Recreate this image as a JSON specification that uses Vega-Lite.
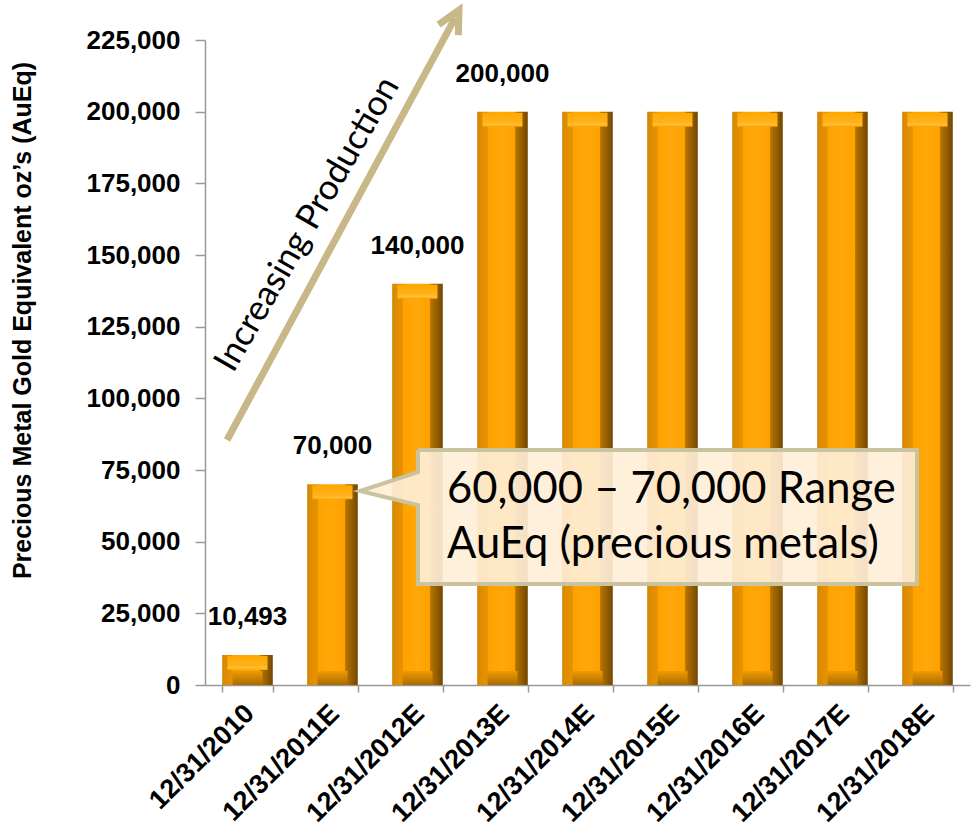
{
  "$schema": "https://vega.github.io/schema/vega-lite/v6.json",
  "width": 765,
  "height": 645,
  "autosize": {"type": "none"},
  "padding": {"left": 205, "top": 40, "right": 10, "bottom": 144},
  "background": "white",
  "config": {"view": {"stroke": null}, "font": "Liberation Sans"},
  "datasets": {
    "bars": [
      {"date": "12/31/2010", "value": 10493},
      {"date": "12/31/2011E", "value": 70000},
      {"date": "12/31/2012E", "value": 140000},
      {"date": "12/31/2013E", "value": 200000},
      {"date": "12/31/2014E", "value": 200000},
      {"date": "12/31/2015E", "value": 200000},
      {"date": "12/31/2016E", "value": 200000},
      {"date": "12/31/2017E", "value": 200000},
      {"date": "12/31/2018E", "value": 200000}
    ],
    "box": [{"x": 2.506, "x2": 8.376, "value": 81970, "value2": 35230}],
    "pointer": [
      {"x": 1.824, "value": 67670, "value2": 67670},
      {"x": 2.506, "value": 74290, "value2": 62780}
    ],
    "outline": [
      {"i": 0, "x": 2.506, "value": 81970},
      {"i": 1, "x": 8.376, "value": 81970},
      {"i": 2, "x": 8.376, "value": 35230},
      {"i": 3, "x": 2.506, "value": 35230},
      {"i": 4, "x": 2.506, "value": 62780},
      {"i": 5, "x": 1.824, "value": 67670},
      {"i": 6, "x": 2.506, "value": 74290},
      {"i": 7, "x": 2.506, "value": 81970}
    ],
    "ctext": [
      {"x": 2.847, "value": 63480, "text": "60,000 – 70,000 Range"},
      {"x": 2.847, "value": 44300, "text": "AuEq (precious metals)"}
    ],
    "arrow": [{"x": 0.259, "value": 85460, "x2": 2.941, "value2": 232650}],
    "head": [{"x": 2.988, "value": 235440}],
    "ptext": [{"x": 1.2, "value": 160800, "text": "Increasing Production"}]
  },
  "resolve": {"scale": {"x": "independent", "y": "independent"}},
  "layer": [
    {
      "data": {"name": "bars"},
      "encoding": {
        "x": {
          "field": "date",
          "type": "nominal",
          "sort": null,
          "scale": {"paddingInner": 0.405, "paddingOuter": 0.2025},
          "axis": {
            "title": null,
            "labelAngle": -45,
            "labelAlign": "right",
            "labelBaseline": "middle",
            "labelFont": "Liberation Sans",
            "labelFontSize": 27,
            "labelFontWeight": "bold",
            "labelColor": "black",
            "labelOverlap": false,
            "labelPadding": 17,
            "labelOffset": 2,
            "tickBand": "extent",
            "tickSize": 7,
            "tickColor": "#999999",
            "tickWidth": 1.5,
            "domainColor": "#999999",
            "domainWidth": 1.5
          }
        },
        "y": {
          "field": "value",
          "type": "quantitative",
          "scale": {"domain": [0, 225000], "nice": false, "zero": true},
          "axis": {
            "title": "Precious Metal Gold Equivalent oz’s (AuEq)",
            "values": [0, 25000, 50000, 75000, 100000, 125000, 150000, 175000, 200000, 225000],
            "format": ",.0f",
            "grid": false,
            "labelFont": "Liberation Sans",
            "labelFontSize": 26,
            "labelFontWeight": "bold",
            "labelColor": "black",
            "labelPadding": 15,
            "tickSize": 10,
            "tickColor": "#999999",
            "tickWidth": 1.5,
            "domainColor": "#999999",
            "domainWidth": 1.5,
            "titleFont": "Liberation Sans",
            "titleFontSize": 25,
            "titleFontWeight": "bold",
            "titleColor": "black",
            "titleAngle": -90,
            "titleX": -183,
            "titleY": 280,
            "titleAlign": "center",
            "titleBaseline": "middle"
          }
        }
      },
      "layer": [
        {
          "mark": {
            "type": "bar",
            "color": {
              "gradient": "linear",
              "x1": 0, "y1": 0, "x2": 1, "y2": 0,
              "stops": [
                {"offset": 0, "color": "#C87D00"},
                {"offset": 0.03, "color": "#DB8A00"},
                {"offset": 0.2, "color": "#E69200"},
                {"offset": 0.22, "color": "#FFA200"},
                {"offset": 0.5, "color": "#FFA80A"},
                {"offset": 0.74, "color": "#FFA000"},
                {"offset": 0.76, "color": "#B57300"},
                {"offset": 1, "color": "#744800"}
              ]
            }
          }
        },
        {
          "mark": {
            "type": "tick",
            "orient": "horizontal",
            "size": 40,
            "thickness": 14,
            "yOffset": 8,
            "opacity": 1,
            "color": {
              "gradient": "linear",
              "x1": 0, "y1": 0, "x2": 0, "y2": 1,
              "stops": [
                {"offset": 0, "color": "#FFA800"},
                {"offset": 0.7, "color": "#FFB21C"},
                {"offset": 0.85, "color": "#FFC038"},
                {"offset": 1, "color": "#FFA500"}
              ]
            }
          }
        },
        {
          "transform": [
            {"filter": {"field": "date", "oneOf": ["12/31/2010", "12/31/2011E", "12/31/2012E", "12/31/2013E"]}}
          ],
          "mark": {
            "type": "text",
            "font": "Liberation Sans",
            "fontSize": 26,
            "fontWeight": "bold",
            "color": "black",
            "baseline": "alphabetic",
            "align": "center",
            "dy": -30
          },
          "encoding": {"text": {"field": "value", "type": "quantitative", "format": ","}}
        }
      ]
    },
    {
      "data": {"name": "bars"},
      "mark": {
        "type": "tick",
        "orient": "horizontal",
        "size": 30,
        "thickness": 14,
        "yOffset": -7,
        "opacity": 1,
        "color": {
          "gradient": "linear",
          "x1": 0, "y1": 0, "x2": 0, "y2": 1,
          "stops": [
            {"offset": 0, "color": "#F09A00"},
            {"offset": 1, "color": "#A86C00"}
          ]
        }
      },
      "encoding": {
        "x": {"field": "date", "type": "nominal", "sort": null, "scale": {"paddingInner": 0.405, "paddingOuter": 0.2025}, "axis": null},
        "y": {"datum": 0, "type": "quantitative", "scale": {"domain": [0, 225000], "nice": false}, "axis": null}
      }
    },
    {
      "data": {"name": "box"},
      "mark": {"type": "rect", "fill": "#FFEED9", "fillOpacity": 0.91},
      "encoding": {
        "x": {"field": "x", "type": "quantitative", "scale": {"domain": [0, 9], "nice": false, "zero": false}, "axis": null},
        "x2": {"field": "x2"},
        "y": {"field": "value", "type": "quantitative", "scale": {"domain": [0, 225000], "nice": false}, "axis": null},
        "y2": {"field": "value2"}
      }
    },
    {
      "data": {"name": "pointer"},
      "mark": {"type": "area", "fill": "#FFEED9", "fillOpacity": 0.91, "orient": "vertical"},
      "encoding": {
        "x": {"field": "x", "type": "quantitative", "scale": {"domain": [0, 9], "nice": false, "zero": false}, "axis": null},
        "y": {"field": "value", "type": "quantitative", "scale": {"domain": [0, 225000], "nice": false}, "axis": null},
        "y2": {"field": "value2"}
      }
    },
    {
      "data": {"name": "outline"},
      "mark": {"type": "line", "stroke": "#C9C3A0", "strokeWidth": 4, "strokeJoin": "miter"},
      "encoding": {
        "x": {"field": "x", "type": "quantitative", "scale": {"domain": [0, 9], "nice": false, "zero": false}, "axis": null},
        "y": {"field": "value", "type": "quantitative", "scale": {"domain": [0, 225000], "nice": false}, "axis": null},
        "order": {"field": "i", "type": "quantitative"}
      }
    },
    {
      "data": {"name": "ctext"},
      "mark": {"type": "text", "font": "Lato", "fontSize": 43.5, "align": "left", "baseline": "alphabetic", "color": "black"},
      "encoding": {
        "x": {"field": "x", "type": "quantitative", "scale": {"domain": [0, 9], "nice": false, "zero": false}, "axis": null},
        "y": {"field": "value", "type": "quantitative", "scale": {"domain": [0, 225000], "nice": false}, "axis": null},
        "text": {"field": "text"}
      }
    },
    {
      "data": {"name": "arrow"},
      "mark": {"type": "rule", "stroke": "#C8B787", "strokeWidth": 7},
      "encoding": {
        "x": {"field": "x", "type": "quantitative", "scale": {"domain": [0, 9], "nice": false, "zero": false}, "axis": null},
        "y": {"field": "value", "type": "quantitative", "scale": {"domain": [0, 225000], "nice": false}, "axis": null},
        "x2": {"field": "x2"},
        "y2": {"field": "value2"}
      }
    },
    {
      "data": {"name": "head"},
      "mark": {"type": "point", "shape": "M-0.5,1L0,0L0.5,1", "filled": false, "stroke": "#C8B787", "strokeWidth": 7, "size": 2000, "angle": 28, "opacity": 1, "strokeJoin": "miter"},
      "encoding": {
        "x": {"field": "x", "type": "quantitative", "scale": {"domain": [0, 9], "nice": false, "zero": false}, "axis": null},
        "y": {"field": "value", "type": "quantitative", "scale": {"domain": [0, 225000], "nice": false}, "axis": null}
      }
    },
    {
      "data": {"name": "ptext"},
      "mark": {"type": "text", "font": "Lato", "fontSize": 35, "angle": 300, "align": "center", "baseline": "middle", "color": "black"},
      "encoding": {
        "x": {"field": "x", "type": "quantitative", "scale": {"domain": [0, 9], "nice": false, "zero": false}, "axis": null},
        "y": {"field": "value", "type": "quantitative", "scale": {"domain": [0, 225000], "nice": false}, "axis": null},
        "text": {"field": "text"}
      }
    }
  ]
}
